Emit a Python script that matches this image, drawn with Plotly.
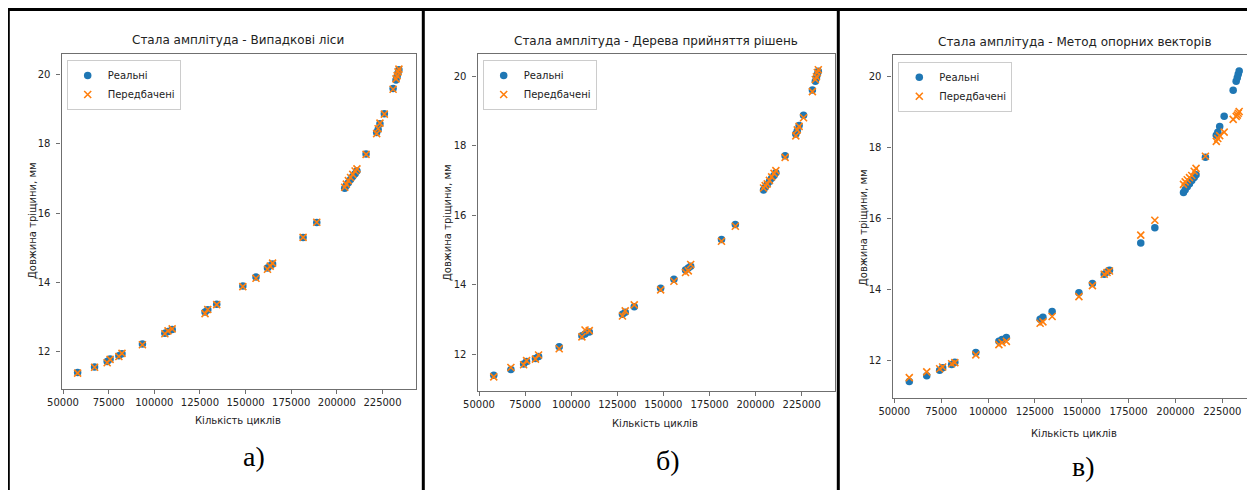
import plotly.graph_objects as go

# ---------------- data ----------------
cycles = [58000, 67300, 74200, 75800, 80600, 82300, 93500, 105800, 107500, 109800,
          127800, 129300, 134200, 148500, 155700, 162000, 163500, 164800, 181500, 189000,
          204300, 205200, 206300, 207500, 208700, 210000, 211000, 216000, 221800, 222600,
          223600, 226000, 230800, 232400, 233000, 233500, 234000]

real = [11.40, 11.56, 11.72, 11.79, 11.88, 11.94, 12.22, 12.53, 12.58, 12.64,
        13.15, 13.21, 13.37, 13.90, 14.16, 14.42, 14.48, 14.53, 15.30, 15.73,
        16.72, 16.80, 16.88, 16.97, 17.06, 17.14, 17.22, 17.71, 18.33, 18.42,
        18.58, 18.87, 19.60, 19.85, 19.95, 20.05, 20.14]

pred_rf = [11.38, 11.55, 11.68, 11.78, 11.86, 11.95, 12.20, 12.52, 12.60, 12.66,
           13.10, 13.22, 13.36, 13.88, 14.12, 14.38, 14.47, 14.56, 15.30, 15.74,
           16.75, 16.84, 16.94, 17.03, 17.12, 17.22, 17.28, 17.70, 18.30, 18.44,
           18.60, 18.86, 19.58, 19.88, 19.97, 20.08, 20.16]

pred_dt = [11.35, 11.62, 11.70, 11.82, 11.86, 11.98, 12.16, 12.50, 12.70, 12.68,
           13.10, 13.25, 13.42, 13.85, 14.10, 14.35, 14.40, 14.58, 15.25, 15.68,
           16.78, 16.85, 16.90, 17.00, 17.10, 17.20, 17.28, 17.66, 18.28, 18.45,
           18.55, 18.80, 19.55, 19.90, 19.98, 20.10, 20.18]

pred_svm = [11.51, 11.67, 11.76, 11.81, 11.90, 11.93, 12.15, 12.44, 12.49, 12.53,
            13.04, 13.08, 13.23, 13.79, 14.10, 14.42, 14.47, 14.51, 15.52, 15.94,
            16.95, 17.02, 17.08, 17.14, 17.20, 17.32, 17.40, 17.74, 18.16, 18.24,
            18.32, 18.42, 18.78, 18.86, 18.90, 18.95, 19.00]

titles = ["Стала амплітуда - Випадкові ліси",
          "Стала амплітуда - Дерева прийняття рішень",
          "Стала амплітуда - Метод опорних векторів"]
captions = ["а)", "б)", "в)"]
x_label = "Кількість циклів"
y_label = "Довжина тріщини, мм"
legend_names = ["Реальні", "Передбачені"]
x_ticks = [50000, 75000, 100000, 125000, 150000, 175000, 200000, 225000]
y_ticks = [12, 14, 16, 18, 20]

# ---------------- layout geometry (page pixels) ----------------
W, H = 1255, 490
OFF = 8            # default body margin of the html page
BLUE, ORANGE = "#1f77b4", "#ff7f0e"
TXT = "#222222"
SPINE = "#6f6f6f"
FONT = "DejaVu Sans"

panels = [
    # L, R, T, B, px(50000), px(225000), px(y=20), px(y=12)
    dict(L=61.5, R=415.5, T=53.5, B=388.5, p50=63.0, p225=382.5, p20=74.7, p12=351.7,
         title=(238.5, 40), xlab=(237.5, 420), ylab=(32, 221), cap=(253.5, 456), leg=(66.7, 60)),
    dict(L=477.5, R=835.0, T=54.0, B=391.0, p50=479.0, p225=801.7, p20=76.0, p12=354.3,
         title=(656, 41), xlab=(655, 423), ylab=(448, 223), cap=(667.5, 460), leg=(482.7, 60)),
    dict(L=892.5, R=1255.0, T=54.5, B=397.5, p50=894.3, p225=1222.3, p20=76.0, p12=360.2,
         title=(1074, 42), xlab=(1073.5, 433), ylab=(863, 227), cap=(1083.5, 466), leg=(898.3, 61.7)),
]
preds = [pred_rf, pred_dt, pred_svm]

fig = go.Figure()
layout = dict(width=W, height=H, margin=dict(l=0, r=0, t=0, b=0, pad=0),
              paper_bgcolor="white", plot_bgcolor="white", annotations=[], shapes=[])

def px_x(p):
    return (p - OFF) / W

def px_y(p):
    return 1 - (p - OFF) / H

for i, (pn, pred) in enumerate(zip(panels, preds)):
    n = "" if i == 0 else str(i + 1)
    leg = "legend" if i == 0 else f"legend{i+1}"
    fig.add_trace(go.Scatter(
        x=cycles, y=real, mode="markers", name=legend_names[0],
        marker=dict(symbol="circle", size=7.5, color=BLUE),
        xaxis="x" + n, yaxis="y" + n, legend=leg))
    fig.add_trace(go.Scatter(
        x=cycles, y=pred, mode="markers", name=legend_names[1],
        marker=dict(symbol="x-thin", size=7, color=ORANGE,
                    line=dict(width=1.6, color=ORANGE)),
        xaxis="x" + n, yaxis="y" + n, legend=leg))

    R = min(pn["R"], W + OFF)
    ppk = (pn["p225"] - pn["p50"]) / 175000.0
    xlo = 50000 + (pn["L"] - pn["p50"]) / ppk
    xhi = 50000 + (R - pn["p50"]) / ppk
    ppu = (pn["p12"] - pn["p20"]) / 8.0
    ylo = 12 - (pn["B"] - pn["p12"]) / ppu
    yhi = 20 + (pn["p20"] - pn["T"]) / ppu

    axis_common = dict(showline=True, mirror=True, linecolor=SPINE, linewidth=1.2,
                       ticks="outside", ticklen=4, tickwidth=1, tickcolor=SPINE,
                       showgrid=False, zeroline=False, automargin=False,
                       tickfont=dict(family=FONT, size=10, color=TXT))
    layout["xaxis" + n] = dict(axis_common, domain=[px_x(pn["L"]), min(1.0, px_x(R))],
                               range=[xlo, xhi], tickvals=x_ticks,
                               ticktext=[str(v) for v in x_ticks],
                               anchor="y" + n)
    layout["yaxis" + n] = dict(axis_common, domain=[px_y(pn["B"]), px_y(pn["T"])],
                               range=[ylo, yhi], tickvals=y_ticks,
                               ticktext=[str(v) for v in y_ticks],
                               ticklabelstandoff=4,
                               anchor="x" + n)
    layout[leg] = dict(x=px_x(pn["leg"][0]), y=px_y(pn["leg"][1]),
                       xanchor="left", yanchor="top",
                       bgcolor="white", bordercolor="#cccccc", borderwidth=1,
                       font=dict(family=FONT, size=10, color=TXT))

    ann = layout["annotations"]
    ann.append(dict(text=titles[i], x=px_x(pn["title"][0]), y=px_y(pn["title"][1]),
                    xref="paper", yref="paper", showarrow=False,
                    xanchor="center", yanchor="middle",
                    font=dict(family=FONT, size=12, color=TXT)))
    ann.append(dict(text=x_label, x=px_x(pn["xlab"][0]), y=px_y(pn["xlab"][1]),
                    xref="paper", yref="paper", showarrow=False,
                    xanchor="center", yanchor="middle",
                    font=dict(family=FONT, size=10, color=TXT)))
    ann.append(dict(text=y_label, x=px_x(pn["ylab"][0]), y=px_y(pn["ylab"][1]),
                    xref="paper", yref="paper", showarrow=False, textangle=-90,
                    xanchor="center", yanchor="middle",
                    font=dict(family=FONT, size=10, color=TXT)))
    ann.append(dict(text=captions[i], x=px_x(pn["cap"][0]), y=px_y(pn["cap"][1]),
                    xref="paper", yref="paper", showarrow=False,
                    xanchor="center", yanchor="middle",
                    font=dict(family="Liberation Serif", size=28, color="black")))

# table borders
border = dict(type="line", xref="paper", yref="paper", layer="above",
              line=dict(color="black", width=3))
shapes = layout["shapes"]
shapes.append(dict(border, x0=px_x(7), x1=px_x(1255), y0=px_y(9.5), y1=px_y(9.5)))
for bx in [8.3, 423.3, 838.3, 1253.3]:
    shapes.append(dict(border, x0=px_x(bx), x1=px_x(bx), y0=px_y(8), y1=px_y(498)))

fig.update_layout(**layout)
fig.write_html("out.html")
